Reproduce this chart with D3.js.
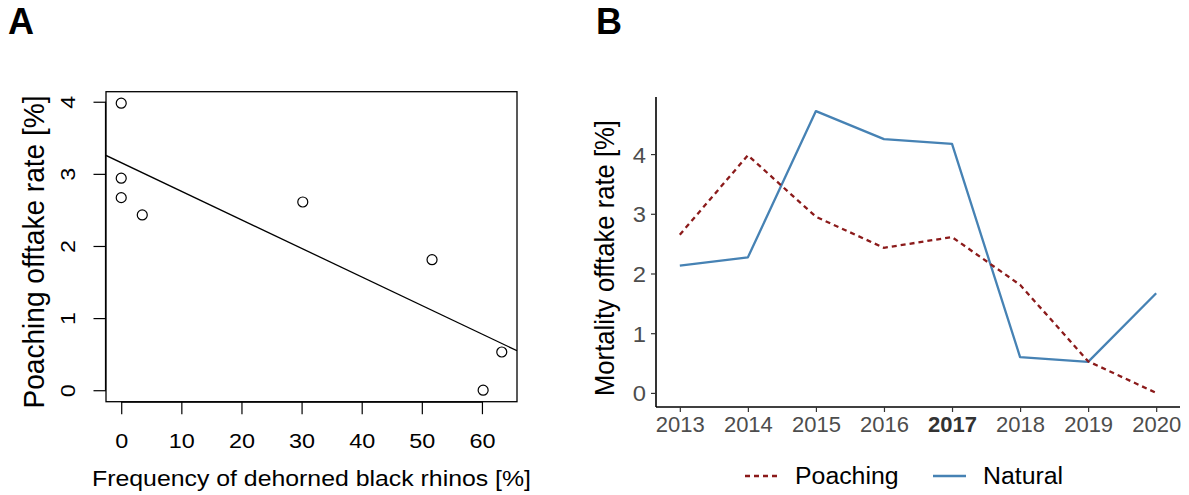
<!DOCTYPE html>
<html><head><meta charset="utf-8">
<script src="https://cdn.jsdelivr.net/npm/d3@7"></script>
<style>
html,body{margin:0;padding:0;background:#fff;}
svg{display:block;font-family:"Liberation Sans",Arial,Helvetica,sans-serif;}
</style></head>
<body>
<svg id="chart" width="1189" height="495"></svg>
<script>
// ---- Data: Panel A (scatter) ----
const dehornedFreq = [0, 0, 0, 3.5, 30.2, 51.7, 60.2, 63.3];
const poachingRateA = [3.98, 2.94, 2.67, 2.43, 2.61, 1.81, 0.0, 0.53];
const xTicksA = [0, 10, 20, 30, 40, 50, 60];
const yTicksA = [0, 1, 2, 3, 4];

// ---- Data: Panel B (time series) ----
const years = [2013, 2014, 2015, 2016, 2017, 2018, 2019, 2020];
const poaching = [2.65, 3.98, 2.95, 2.43, 2.61, 1.81, 0.53, 0.0];
const natural = [2.13, 2.27, 4.72, 4.25, 4.17, 0.60, 0.52, 1.67];
const yTicksB = [0, 1, 2, 3, 4];
const boldYear = 2017;
const seriesNames = ["Poaching", "Natural"];

const svg = d3.select("#chart");
const FONT = '"Liberation Sans",Arial,Helvetica,sans-serif';

function stretch(sel, factor) {
  sel.each(function () {
    const w = this.getComputedTextLength();
    d3.select(this).attr("textLength", w * factor).attr("lengthAdjust", "spacingAndGlyphs");
  });
}
function fitLen(sel, len) {
  sel.attr("textLength", len).attr("lengthAdjust", "spacingAndGlyphs");
}

// ================= Panel A =================
(function () {
  const L = 106, R = 517, T = 91.7, B = 401.7;
  const xe = d3.extent(dehornedFreq), ye = d3.extent(poachingRateA);
  const xpad = (xe[1] - xe[0]) * 0.04, ypad = (ye[1] - ye[0]) * 0.04;
  const x = d3.scaleLinear().domain([xe[0] - xpad, xe[1] + xpad]).range([L, R]);
  const y = d3.scaleLinear().domain([ye[0] - ypad, ye[1] + ypad]).range([B, T]);

  const g = svg.append("g");

  const xAxis = d3.axisBottom(x).tickValues(xTicksA).tickSize(12.5).tickSizeOuter(0).tickPadding(4).tickFormat(d3.format("d"));
  const gx = g.append("g").attr("transform", `translate(0,${B})`).call(xAxis);
  gx.select(".domain").attr("d", `M${x(xTicksA[0])},0.5H${x(xTicksA[xTicksA.length - 1])}`).attr("stroke", "#000").attr("stroke-width", 1.2);
  gx.selectAll(".tick line").attr("stroke", "#000").attr("stroke-width", 1.2);
  gx.selectAll(".tick text").attr("font-family", FONT).attr("font-size", 19.5).attr("fill", "#000")
    .attr("dy", null).attr("y", 46.5);
  stretch(gx.selectAll(".tick text"), 1.2);

  const yAxis = d3.axisLeft(y).tickValues(yTicksA).tickSize(12.5).tickSizeOuter(0).tickFormat(d3.format("d"));
  const gy = g.append("g").attr("transform", `translate(${L},0)`).call(yAxis);
  gy.select(".domain").attr("stroke", "#000").attr("stroke-width", 1.2)
    .attr("d", `M-0.5,${y(yTicksA[0])}V${y(yTicksA[yTicksA.length - 1])}`);
  gy.selectAll(".tick line").attr("stroke", "#000").attr("stroke-width", 1.2);
  gy.selectAll(".tick text").attr("font-family", FONT).attr("font-size", 19.5).attr("fill", "#000")
    .attr("x", null).attr("dy", null).attr("text-anchor", "middle")
    .attr("transform", "translate(-31,0) rotate(-90)");
  stretch(gy.selectAll(".tick text"), 1.2);

  g.append("rect").attr("x", L).attr("y", T).attr("width", R - L).attr("height", B - T)
    .attr("fill", "none").attr("stroke", "#000").attr("stroke-width", 1.3);

  // regression line (least squares from data)
  const mx = d3.mean(dehornedFreq), my = d3.mean(poachingRateA);
  let sxy = 0, sxx = 0;
  dehornedFreq.forEach((v, i) => { sxy += (v - mx) * (poachingRateA[i] - my); sxx += (v - mx) * (v - mx); });
  const slope = sxy / sxx, icpt = my - slope * mx;
  const [d0, d1] = x.domain();
  g.append("clipPath").attr("id", "clipA").append("rect").attr("x", L).attr("y", T).attr("width", R - L).attr("height", B - T);
  g.append("line").attr("clip-path", "url(#clipA)")
    .attr("x1", x(d0)).attr("y1", y(icpt + slope * d0))
    .attr("x2", x(d1)).attr("y2", y(icpt + slope * d1))
    .attr("stroke", "#000").attr("stroke-width", 1.3);

  g.selectAll("circle.pt").data(dehornedFreq).join("circle").attr("class", "pt")
    .attr("cx", d => x(d)).attr("cy", (d, i) => y(poachingRateA[i])).attr("r", 5)
    .attr("fill", "none").attr("stroke", "#000").attr("stroke-width", 1.2);

  const xl = g.append("text").attr("x", 311.5).attr("y", 485.5).attr("text-anchor", "middle")
    .attr("font-family", FONT).attr("font-size", 22).attr("fill", "#000")
    .text("Frequency of dehorned black rhinos [%]");
  fitLen(xl, 439);
  const yl = g.append("text").attr("transform", "translate(43.5,252) rotate(-90)").attr("text-anchor", "middle")
    .attr("font-family", FONT).attr("font-size", 30).attr("fill", "#000")
    .text("Poaching offtake rate [%]");
  fitLen(yl, 313);

  g.append("text").attr("x", 8).attr("y", 34).attr("font-family", FONT).attr("font-weight", "bold")
    .attr("font-size", 36).attr("fill", "#000").text("A");
})();

// ================= Panel B =================
(function () {
  const L = 656, R = 1180, T = 97, B = 407;
  const allVals = poaching.concat(natural);
  const ye = d3.extent(allVals), xe = d3.extent(years);
  const xpad = (xe[1] - xe[0]) * 0.05, ypad = (ye[1] - ye[0]) * 0.05;
  const x = d3.scaleLinear().domain([xe[0] - xpad, xe[1] + xpad]).range([L, R]);
  const y = d3.scaleLinear().domain([ye[0] - ypad, ye[1] + ypad]).range([B, T]);
  const g = svg.append("g");

  const line = d3.line().x((d, i) => x(years[i])).y(d => y(d));
  g.append("path").datum(natural).attr("d", line).attr("fill", "none")
    .attr("stroke", "#4682B4").attr("stroke-width", 2.3).attr("stroke-linejoin", "round");
  g.append("path").datum(poaching).attr("d", line).attr("fill", "none")
    .attr("stroke", "#8B1A1A").attr("stroke-width", 2.3).attr("stroke-dasharray", "5,4");

  const xAxis = d3.axisBottom(x).tickValues(years).tickSize(5).tickSizeOuter(0).tickPadding(3).tickFormat(d3.format("d"));
  const gx = g.append("g").attr("transform", `translate(0,${B})`).call(xAxis);
  gx.select(".domain").attr("stroke", "#000").attr("stroke-width", 1.6).attr("d", `M${L},0H${R}`);
  gx.selectAll(".tick line").attr("stroke", "#333").attr("stroke-width", 1.2);
  gx.selectAll(".tick text").attr("font-family", FONT).attr("font-size", 22).attr("fill", "#4D4D4D")
    .attr("dy", null).attr("y", 25)
    .attr("font-weight", d => d === boldYear ? "bold" : "normal")
    .attr("fill", d => d === boldYear ? "#333" : "#4D4D4D");

  const yAxis = d3.axisLeft(y).tickValues(yTicksB).tickSize(5).tickSizeOuter(0).tickPadding(3).tickFormat(d3.format("d"));
  const gy = g.append("g").attr("transform", `translate(${L},0)`).call(yAxis);
  gy.select(".domain").attr("stroke", "#000").attr("stroke-width", 1.6).attr("d", `M0,${T}V${B}`);
  gy.selectAll(".tick line").attr("stroke", "#333").attr("stroke-width", 1.2);
  gy.selectAll(".tick text").attr("font-family", FONT).attr("font-size", 22).attr("fill", "#4D4D4D")
    .attr("dy", "0.36em").attr("x", -10);
  stretch(gy.selectAll(".tick text"), 1.08);

  const yl = g.append("text").attr("transform", "translate(613.5,258) rotate(-90)").attr("text-anchor", "middle")
    .attr("font-family", FONT).attr("font-size", 28).attr("fill", "#000")
    .text("Mortality offtake rate [%]");
  fitLen(yl, 276);

  const leg = g.append("g");
  const items = [
    { name: seriesNames[0], color: "#8B1A1A", dash: "5,4", x0: 745, tx: 795 },
    { name: seriesNames[1], color: "#4682B4", dash: null, x0: 933, tx: 983 }
  ];
  items.forEach(it => {
    leg.append("line").attr("x1", it.x0).attr("x2", it.x0 + 33).attr("y1", 476).attr("y2", 476)
      .attr("stroke", it.color).attr("stroke-width", 2.3).attr("stroke-dasharray", it.dash);
    const t = leg.append("text").attr("x", it.tx).attr("y", 483.5).attr("font-family", FONT)
      .attr("font-size", 23).attr("fill", "#000").text(it.name);
    stretch(t, 1.08);
  });

  g.append("text").attr("x", 596).attr("y", 34).attr("font-family", FONT).attr("font-weight", "bold")
    .attr("font-size", 36).attr("fill", "#000").text("B");
})();
</script>
</body></html>
